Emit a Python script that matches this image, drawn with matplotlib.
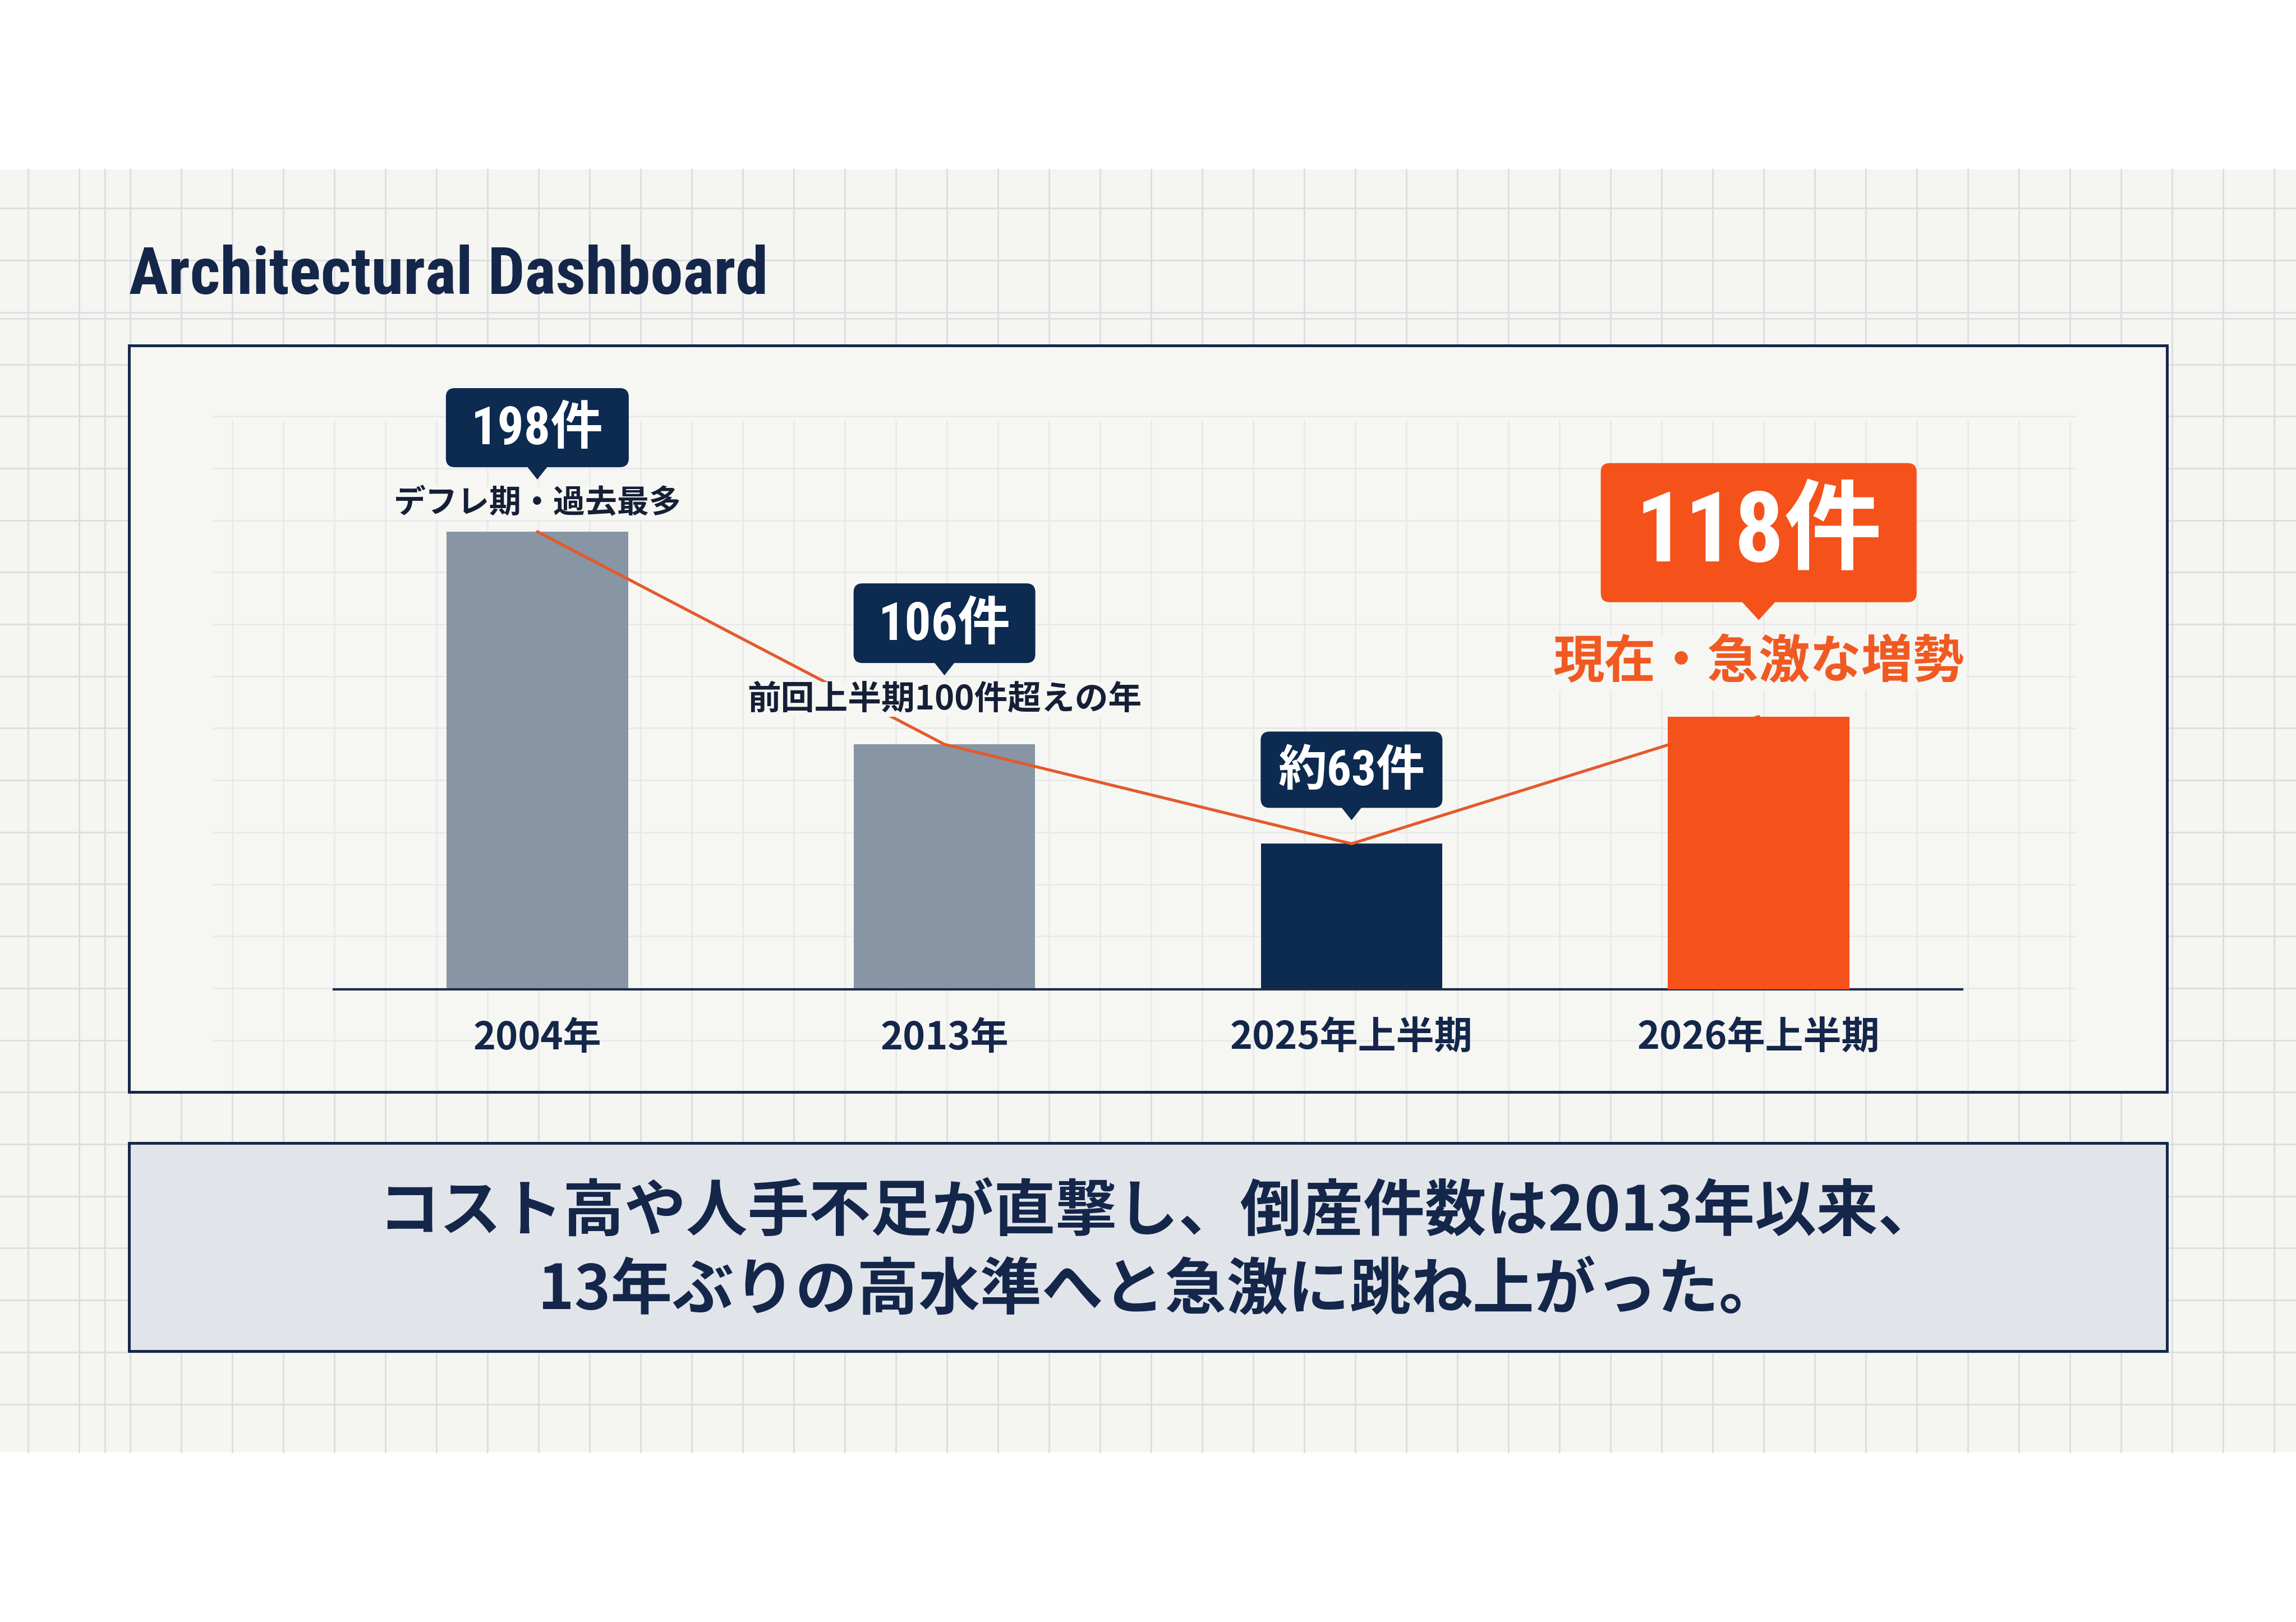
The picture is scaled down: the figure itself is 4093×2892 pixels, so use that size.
import numpy as np
import matplotlib
matplotlib.use('Agg')
import matplotlib.pyplot as plt
from matplotlib import font_manager as fm
from matplotlib.patches import FancyBboxPatch, Rectangle, Polygon

W, H = 4093, 2892
DPI = 100

# data
categories = ['2004年', '2013年', '2025年上半期', '2026年上半期']
counts = [198, 106, 63, 118]
count_labels = ['198件', '106件', '約63件', '118件']
notes = ['デフレ期・過去最多', '前回上半期100件超えの年', '', '現在・急激な増勢']
title = 'Architectural Dashboard'
message = ['コスト高や人手不足が直撃し、倒産件数は2013年以来、',
           '13年ぶりの高水準へと急激に跳ね上がった。']

# colours
NAVY = '#0d2a50'
NAVY_TXT = '#14264a'
GREY_BAR = '#8795a4'
ORANGE = '#f5511a'
LINE = '#e35a2c'
BG = '#f5f5f1'
PANEL = '#f6f6f3'
GRID = '#dcdde2'
GRID_IN = '#e8e8ea'
BOX2 = '#e1e5ea'
bar_colors = [GREY_BAR, GREY_BAR, NAVY, ORANGE]

JP = ['Noto Sans CJK JP', 'DejaVu Sans']

# look for a condensed latin face for the title and the numbers
names = {f.name for f in fm.fontManager.ttflist}
COND, STRETCH = 'Liberation Sans', 'normal'
if 'Roboto Condensed' in names:
    COND = 'Roboto Condensed'
elif 'Liberation Sans Narrow' in names:
    COND = 'Liberation Sans Narrow'
elif any(f.name == 'DejaVu Sans' and f.stretch == 'condensed' for f in fm.fontManager.ttflist):
    COND, STRETCH = 'DejaVu Sans', 'condensed'
NARROW = [COND, 'Noto Sans CJK JP', 'DejaVu Sans']

fig = plt.figure(figsize=(W / DPI, H / DPI), dpi=DPI)
fig.patch.set_facecolor('white')
renderer = fig.canvas.get_renderer()


def fit_width(t, target):
    w = t.get_window_extent(renderer=renderer).width
    t.set_fontsize(t.get_fontsize() * target / w)


# background layer in pixel coords
bg = fig.add_axes([0, 0, 1, 1], zorder=0)
bg.set_xlim(0, W)
bg.set_ylim(H, 0)
bg.axis('off')

top_band, bot_band = 302, 2589
bg.add_patch(Rectangle((0, top_band), W, bot_band - top_band, fc=BG, ec='none', zorder=0))
for x in np.arange(232 - 91 * 3, W, 91):
    bg.plot([x, x], [top_band, bot_band], color=GRID, lw=2.0, zorder=1)
bg.plot([187, 187], [top_band, bot_band], color=GRID, lw=2.0, zorder=1)
for y in np.arange(2040 - 92.7 * 19, bot_band, 92.7):
    if y > top_band:
        bg.plot([0, W], [y, y], color=GRID, lw=2.0, zorder=1)
bg.plot([0, W], [568, 568], color=GRID, lw=2.0, zorder=1)

# chart panel
bg.add_patch(Rectangle((230, 616), 3633, 1331, fc=PANEL, ec='#16284a', lw=3.6, zorder=2))
for x in np.arange(232 + 91 * 2, 3700, 91):
    bg.plot([x, x], [750, 1942], color=GRID_IN, lw=1.8, zorder=3)
for y in np.arange(2040 - 92.7 * 14, 1942, 92.7):
    bg.plot([380, 3700], [y, y], color=GRID_IN, lw=1.8, zorder=3)

# message box
bg.add_patch(Rectangle((230, 2038), 3633, 371, fc=BOX2, ec='#16284a', lw=3.6, zorder=2))
bg.text(2066, 2162, message[0], ha='center', va='center', fontsize=79,
        fontweight='bold', color=NAVY_TXT, family=JP, zorder=4)
bg.text(2066, 2302, message[1], ha='center', va='center', fontsize=79,
        fontweight='bold', color=NAVY_TXT, family=JP, zorder=4)

# title
t = bg.text(230, 492, title, ha='left', va='center', fontsize=96, fontweight='bold',
            color=NAVY_TXT, family=[COND, 'DejaVu Sans'], fontstretch=STRETCH, zorder=4)
fit_width(t, 1140)

# bar chart
base_px, top_px = 1764, 700
px_per_unit = 816 / 198
left_px, right_px = 595, 3498
ax = fig.add_axes([left_px / W, 1 - base_px / H, (right_px - left_px) / W,
                   (base_px - top_px) / H], zorder=1)
ax.set_facecolor('none')
x = np.arange(len(categories))
for i in x:
    ax.bar(i, counts[i], width=0.446, color=bar_colors[i], zorder=4 if i == 3 else 2)
ax.plot(x, counts, color=LINE, lw=3.8, zorder=3, solid_capstyle='round')
ax.set_xlim(-0.5, 3.5)
ax.set_ylim(0, (base_px - top_px) / px_per_unit)
for s in ['left', 'right', 'top']:
    ax.spines[s].set_visible(False)
ax.spines['bottom'].set_color('#1c2c48')
ax.spines['bottom'].set_linewidth(3.0)
ax.set_yticks([])
ax.set_xticks(x)
ax.set_xticklabels(categories, fontsize=49, fontweight='bold', color=NAVY_TXT, family=JP)
ax.tick_params(axis='x', length=0, pad=38)

# callouts layer
ov = fig.add_axes([0, 0, 1, 1], zorder=2)
ov.set_xlim(0, W)
ov.set_ylim(H, 0)
ov.axis('off')
ov.set_facecolor('none')

tip_gap = [93, 123, 42, 172]
note_gap = [51, 80, 0, 97]
box_w = [326, 324, 324, 563]
box_h = [141, 142, 136, 248]
tri = [(38, 22), (38, 22), (38, 22), (62, 32)]
label_w = [236, 236, 262, 440]
note_fs = [41, 43, 0, 66]
box_col = [NAVY, NAVY, NAVY, ORANGE]
note_col = ['#151f36', '#151f36', '#151f36', '#f05a22']

fig.canvas.draw()
for i in x:
    dx, dy = ax.transData.transform((i, counts[i]))
    cx, ty = dx, H - dy
    tip = ty - tip_gap[i]
    bottom = tip - tri[i][1]
    top = bottom - box_h[i]
    ov.add_patch(FancyBboxPatch((cx - box_w[i] / 2, top), box_w[i], box_h[i],
                                boxstyle='round,pad=0,rounding_size=16',
                                fc=box_col[i], ec='none', zorder=3))
    tw = tri[i][0]
    ov.add_patch(Polygon([(cx - tw / 2, bottom - 2), (cx + tw / 2, bottom - 2), (cx, tip)],
                         closed=True, fc=box_col[i], ec='none', zorder=3))
    lab = ov.text(cx, (top + bottom) / 2 + 4, count_labels[i], ha='center', va='center',
                  fontsize=70, fontweight='bold', color='white', family=NARROW,
                  fontstretch=STRETCH, zorder=4)
    fit_width(lab, label_w[i])
    if notes[i]:
        ov.text(cx, ty - note_gap[i], notes[i], ha='center', va='center',
                fontsize=note_fs[i], fontweight='bold', color=note_col[i], family=JP,
                zorder=2, bbox=dict(fc=PANEL, ec='none', pad=1))

fig.savefig('out.png', dpi=DPI, facecolor='white')
